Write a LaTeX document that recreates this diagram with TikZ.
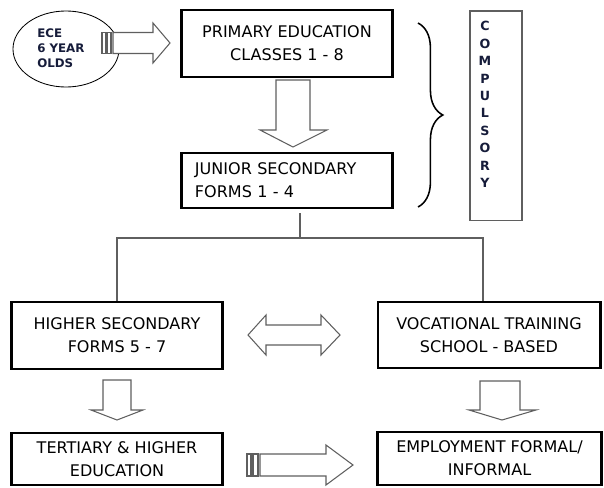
\documentclass[tikz,border=0pt]{standalone}
\usepackage{fontspec}
\setmainfont{DejaVu Sans}
\usetikzlibrary{positioning,calc,shapes.geometric,decorations.pathreplacing}
\definecolor{labelnavy}{RGB}{22,28,58}
\definecolor{linegray}{RGB}{95,95,95}

\begin{document}
\begin{tikzpicture}[
                    x=0.025cm, y=-0.025cm,
                    stage/.style={rectangle, draw, line width=2.1pt, minimum width=5.25cm, inner sep=0pt, align=center, font=\fontsize{11.4}{16.5}\selectfont},
                    blockarr/.style={draw=linegray, line width=0.75pt, fill=white, line join=miter},
                    tree/.style={draw=linegray, line width=0.75pt},
                    boldlabel/.style={font=\fontsize{8.4}{10.6}\selectfont\bfseries, text=labelnavy, align=left, inner sep=0pt}
                ]
                    \useasboundingbox (0,0) rectangle (604,487);

                    % ECE entry
                    \node[ellipse, draw, line width=0.6pt, minimum width=2.65cm, minimum height=1.9cm] (ece) at (66,49) {};
                    \node[boldlabel, anchor=west] (ecetext) at (37,48) {ECE\\6 YEAR\\OLDS};

                    % Stage boxes
                    \node[stage, minimum height=1.675cm] (primary) at (287,43.5) {PRIMARY EDUCATION\\CLASSES 1 - 8};
                    \node[stage, minimum height=1.375cm, align=left, text width=4.6cm, inner xsep=0.325cm] (junior) at (287,180.5) {JUNIOR SECONDARY\\FORMS 1 - 4};
                    \node[stage, minimum height=1.675cm] (higher) at (117,335.5) {HIGHER SECONDARY\\FORMS 5 - 7};
                    \node[stage, minimum height=1.65cm, minimum width=5.55cm] (voc) at (489,335) {VOCATIONAL TRAINING\\SCHOOL - BASED};
                    \node[stage, minimum height=1.3cm] (tertiary) at (117,459) {TERTIARY \& HIGHER\\EDUCATION};
                    \node[stage, minimum height=1.325cm, minimum width=5.6cm] (employ) at (489.5,458.5) {EMPLOYMENT FORMAL/\\INFORMAL};

                    % Compulsory column
                    \node[rectangle, draw=linegray, line width=0.75pt, minimum width=1.3cm, minimum height=5.225cm] (comp) at (496,115.5) {};
                    \node[font=\fontsize{9}{12.4}\selectfont\bfseries, text=labelnavy, align=center, inner sep=0pt] (comptext) at (485,104.5) {C\\O\\M\\P\\U\\L\\S\\O\\R\\Y};
                    \draw[decorate, decoration={brace, amplitude=0.62cm}, line width=1.1pt] (418,23) -- (418,207);

                    % Tree below junior secondary
                    \coordinate (split) at (300,238);
                    \draw[tree] ($(junior.south -| split)+(0,4)$) -- (split);
                    \draw[tree] (higher.north) |- (split) -| ($(voc.north)+(-6,0)$);

                    % Block arrows
                    \draw[blockarr] (113,32.5) -- (153,32.5) -- (153,23) -- (170,43) -- (153,63) -- (153,53.5) -- (113,53.5) -- cycle;
                    \draw[blockarr] (102,32.5) rectangle (105.5,53.5);
                    \draw[blockarr] (107,32.5) rectangle (111,53.5);

                    \draw[blockarr] (276,80) -- (310,80) -- (310,130) -- (327,130) -- (293,147) -- (260,130) -- (276,130) -- cycle;

                    \draw[blockarr] (248,335) -- (266,315) -- (266,325) -- (321,325) -- (321,315) -- (340,335) -- (321,355) -- (321,345) -- (266,345) -- (266,355) -- cycle;

                    \draw[blockarr] (103,380) -- (131,380) -- (131,410) -- (143,410) -- (117,420) -- (91,410) -- (103,410) -- cycle;
                    \draw[blockarr] (480,381) -- (520,381) -- (520,410) -- (536,410) -- (502,420) -- (469,410) -- (480,410) -- cycle;

                    \draw[blockarr] (260,454) -- (326,454) -- (326,445) -- (353,465) -- (326,485) -- (326,476) -- (260,476) -- cycle;
                    \draw[blockarr] (247,454) rectangle (251,476);
                    \draw[blockarr] (253,454) rectangle (258,476);
                \end{tikzpicture}
\end{document}
